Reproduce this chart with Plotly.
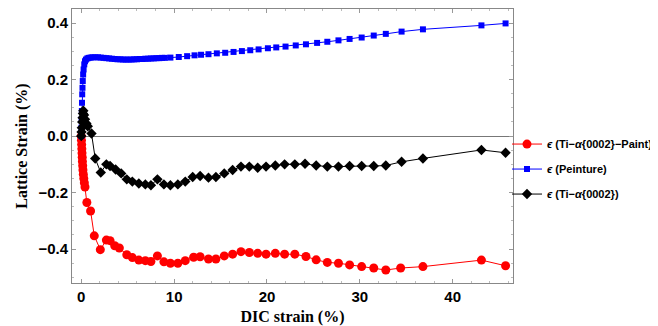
import plotly.graph_objects as go

# Data
red_x = [0, 0.02, 0.04, 0.06, 0.08, 0.1, 0.12, 0.15, 0.18, 0.22, 0.27, 0.33, 0.4, 0.6, 1.0, 1.4,
         2.05, 2.7, 3.1, 3.6, 4.1, 4.9, 5.5, 6.2, 6.9, 7.5, 8.2, 8.9, 9.6, 10.4, 11.2, 12.1, 12.8,
         13.7, 14.5, 15.4, 16.3, 17.2, 18.1, 19.0, 19.9, 20.9, 21.9, 23.0, 24.2, 25.3, 26.5, 27.7,
         28.9, 30.2, 31.5, 32.8, 34.4, 36.8, 43.1, 45.7]
red_y = [0, -0.015, -0.03, -0.045, -0.06, -0.075, -0.09, -0.105, -0.12, -0.135, -0.15, -0.165,
         -0.18, -0.235, -0.265, -0.353, -0.402, -0.368, -0.37, -0.388, -0.396, -0.42, -0.43,
         -0.439, -0.441, -0.444, -0.424, -0.445, -0.45, -0.45, -0.441, -0.429, -0.427, -0.435,
         -0.435, -0.424, -0.418, -0.409, -0.412, -0.415, -0.418, -0.415, -0.418, -0.418, -0.426,
         -0.438, -0.447, -0.45, -0.456, -0.462, -0.467, -0.474, -0.467, -0.462, -0.439, -0.459]

blue_x = [0, 0.02, 0.04, 0.06, 0.08, 0.1, 0.13, 0.16, 0.2, 0.25, 0.32, 0.4, 0.5, 0.65, 0.8, 1.0,
          1.2, 1.5, 1.8, 2.1, 2.4, 2.7, 3.0, 3.3, 3.6, 3.9, 4.2, 4.5, 4.8, 5.1, 5.4, 5.7, 6.0, 6.3,
          6.6, 6.9, 7.2, 7.5, 7.8, 8.1, 8.4, 8.7, 9.0, 9.6, 10.5, 11.4, 12.2, 12.9, 13.7, 14.6,
          15.5, 16.4, 17.3, 18.2, 19.1, 20.1, 21.0, 22.0, 23.1, 24.2, 25.4, 26.5, 27.7, 28.9,
          30.2, 31.5, 32.8, 34.5, 36.8, 43.1, 45.7]
blue_y = [0, 0.03, 0.059, 0.089, 0.118, 0.148, 0.171, 0.195, 0.218, 0.236, 0.254, 0.265, 0.271,
          0.275, 0.277, 0.278, 0.279, 0.279, 0.279, 0.278, 0.277, 0.276, 0.275, 0.274, 0.273,
          0.272, 0.272, 0.271, 0.271, 0.271, 0.271, 0.272, 0.272, 0.273, 0.273, 0.274, 0.274,
          0.275, 0.275, 0.276, 0.276, 0.277, 0.277, 0.278, 0.28, 0.283, 0.286, 0.288, 0.29,
          0.293, 0.295, 0.298, 0.301, 0.304, 0.307, 0.311, 0.314, 0.317, 0.321, 0.325, 0.33,
          0.334, 0.339, 0.344, 0.349, 0.356, 0.362, 0.37, 0.378, 0.392, 0.399]

black_x = [0, 0.03, 0.06, 0.1, 0.14, 0.18, 0.22, 0.3, 0.4, 0.55, 0.7, 1.1, 1.5, 2.1, 2.7, 3.1,
           3.7, 4.3, 4.9, 5.5, 6.2, 6.9, 7.5, 8.2, 8.9, 9.6, 10.4, 11.2, 12.0, 12.8, 13.7, 14.5,
           15.4, 16.3, 17.2, 18.1, 19.0, 19.9, 20.9, 21.9, 23.0, 24.1, 25.3, 26.5, 27.7, 28.9,
           30.2, 31.5, 32.8, 34.5, 36.8, 43.1, 45.7]
black_y = [0, 0.015, 0.03, 0.05, 0.065, 0.08, 0.09, 0.075, 0.06, 0.045, 0.035, 0.009, -0.079,
           -0.129, -0.1, -0.106, -0.118, -0.132, -0.153, -0.161, -0.168, -0.171, -0.174, -0.153,
           -0.171, -0.174, -0.171, -0.161, -0.145, -0.141, -0.147, -0.145, -0.132, -0.12, -0.108,
           -0.108, -0.112, -0.108, -0.104, -0.1, -0.1, -0.098, -0.104, -0.108, -0.108, -0.106,
           -0.106, -0.106, -0.104, -0.091, -0.079, -0.049, -0.059]

names = ["<i>ϵ</i> (Ti−<i>α</i>{0002}−Paint)", "<i>ϵ</i> (Peinture)", "<i>ϵ</i> (Ti−<i>α</i>{0002})"]
y_ticks = [0.4, 0.2, 0.0, -0.2, -0.4]
y_ticktext = ["0.4", "0.2", "0.0", "−0.2", "−0.4"]
x_ticks = [0, 10, 20, 30, 40]

fig = go.Figure()
fig.add_trace(go.Scatter(x=red_x, y=red_y, mode="lines+markers", name=names[0],
                         legendgroup="a",
                         line=dict(color="#ff0000", width=1),
                         marker=dict(symbol="circle", size=9, color="#ff0000")))
fig.add_trace(go.Scatter(x=blue_x, y=blue_y, mode="lines+markers", name=names[1],
                         legendgroup="b",
                         line=dict(color="#0000ff", width=1),
                         marker=dict(symbol="square", size=6, color="#0000ff")))
fig.add_trace(go.Scatter(x=black_x, y=black_y, mode="lines+markers", name=names[2],
                         legendgroup="c",
                         line=dict(color="#000000", width=1),
                         marker=dict(symbol="diamond", size=8, color="#000000")))

tick_font = dict(family="Liberation Sans, Arial", size=15, color="#000000", weight="bold")
title_font = dict(family="Liberation Serif, Times New Roman", size=16, color="#000000")

axis_common = dict(showgrid=False, showline=True, linecolor="#888888", linewidth=1,
                   mirror="allticks", ticks="inside", ticklen=4, tickcolor="#999999",
                   tickfont=tick_font)

# The page body adds an 8px offset, so the figure is sized to fit the window after it.
fig.update_layout(
    width=650, height=318,
    margin=dict(l=64, r=145, t=1, b=43, autoexpand=False),
    paper_bgcolor="white", plot_bgcolor="white",
    showlegend=True,
    legend=dict(x=1.3288, y=0.56, xanchor="right", yanchor="top",
                font=dict(family="Liberation Sans, Arial", size=11, color="#000000",
                          weight="bold"),
                traceorder="grouped", tracegroupgap=6, itemwidth=30,
                bgcolor="rgba(0,0,0,0)"),
    xaxis=dict(range=[-1, 46.5], tickvals=x_ticks,
               minor=dict(dtick=2, ticks="inside", ticklen=2, tickcolor="#bbbbbb"),
               title=dict(text="<b>DIC strain (%)</b>", standoff=9, font=title_font),
               zeroline=False, **axis_common),
    yaxis=dict(range=[-0.52, 0.45], tickvals=y_ticks, ticktext=y_ticktext,
               minor=dict(dtick=0.05, ticks="inside", ticklen=2, tickcolor="#bbbbbb"),
               title=dict(text="<b>Lattice Strain (%)</b>", standoff=6, font=title_font),
               zeroline=True, zerolinecolor="#777777", zerolinewidth=1, **axis_common),
)

fig.write_html("out.html")
